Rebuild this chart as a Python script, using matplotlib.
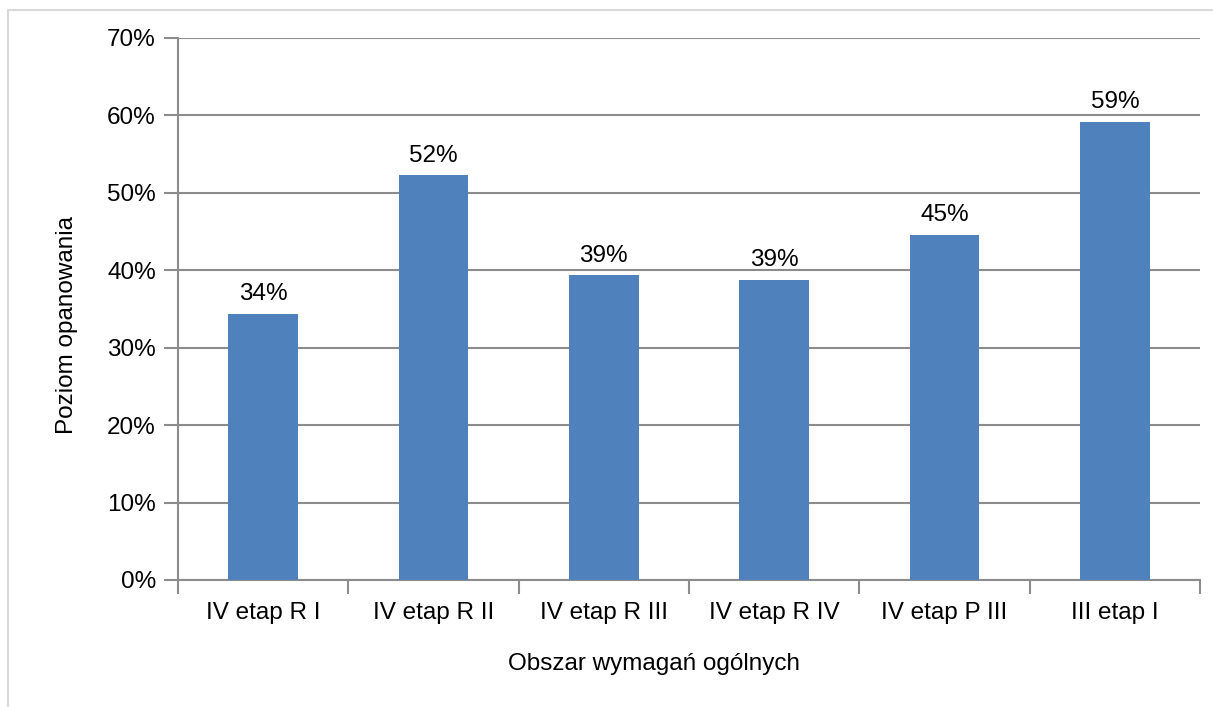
import matplotlib
matplotlib.use("Agg")
import matplotlib.pyplot as plt
from matplotlib.patches import Rectangle
from matplotlib.ticker import FuncFormatter, MultipleLocator

categories = ["IV etap R I", "IV etap R II", "IV etap R III", "IV etap R IV", "IV etap P III", "III etap I"]
values = [34.4, 52.3, 39.4, 38.8, 44.6, 59.2]
labels = ["34%", "52%", "39%", "39%", "45%", "59%"]

plt.rcParams['font.family'] = ['Liberation Sans', 'DejaVu Sans']
W, H = 1213, 707
fig = plt.figure(figsize=(W/100, H/100), dpi=100)
ax_l, ax_r, ax_t, ax_b = 178, 1200, 38, 580
ax = fig.add_axes([ax_l/W, 1-ax_b/H, (ax_r-ax_l)/W, (ax_b-ax_t)/H])

fs = 17.5
grid_c = '#8c8c8c'
x = list(range(len(categories)))
ax.bar(x, values, width=0.41, color='#4F81BD', zorder=3)
for xi, v, t in zip(x, values, labels):
    ax.annotate(t, (xi, v), xytext=(0, 6), textcoords='offset points',
                ha='center', va='bottom', fontsize=fs, color='#000000')

ax.set_xlim(-0.5, len(categories)-0.5)
ax.set_ylim(0, 70)
ax.yaxis.set_major_locator(MultipleLocator(10))
ax.yaxis.set_major_formatter(FuncFormatter(lambda v, p: f"{v:.0f}%"))
ax.grid(axis='y', color=grid_c, linewidth=1.5, zorder=0)
ax.set_axisbelow(True)
for s in ['top', 'right']:
    ax.spines[s].set_visible(False)
for s in ['left', 'bottom']:
    ax.spines[s].set_color(grid_c)
    ax.spines[s].set_linewidth(1.5)

ax.set_xticks(x)
ax.set_xticklabels(categories, fontsize=fs)
ax.tick_params(axis='x', length=0, pad=16)
ax.set_xticks([i - 0.5 for i in range(len(categories)+1)], minor=True)
ax.tick_params(axis='x', which='minor', length=10, width=1.5, color=grid_c)
ax.tick_params(axis='y', length=10, width=1.5, color=grid_c, labelsize=fs, pad=6)

ax.set_xlabel("Obszar wymagań ogólnych", fontsize=fs, labelpad=21)
ax.xaxis.label.set_x((654-ax_l)/(ax_r-ax_l))
ax.set_ylabel("Poziom opanowania", fontsize=fs, labelpad=21)
ax.yaxis.label.set_y((ax_b-325)/(ax_b-ax_t))

fig.patches.append(Rectangle((8/W, -0.1), 1.2, 1 - 10/H + 0.1, transform=fig.transFigure,
                             fill=False, edgecolor='#d9d9d9', linewidth=1.5))
fig.savefig("out.png", dpi=100)
